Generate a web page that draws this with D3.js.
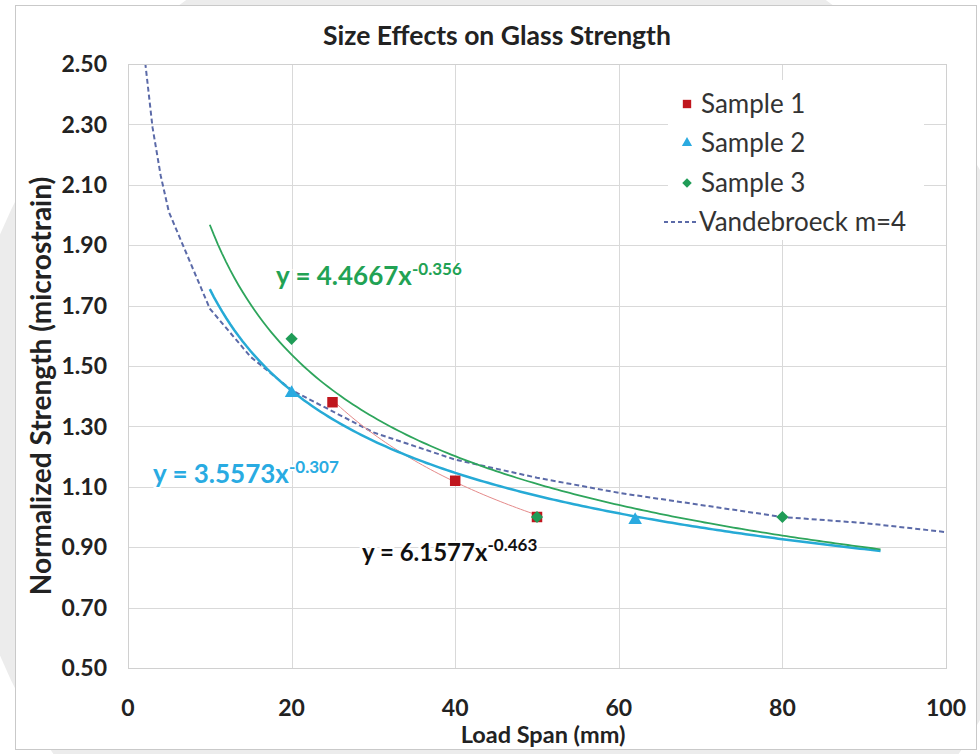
<head>
    <script src="https://d3js.org/d3.v7.min.js"></script>
</head>
<body style="margin:0">
<script>
    // values
    let sample1X = [25, 40, 50];
    let sample1Y = [1.38, 1.12, 1.00];
    let sample2X = [20, 62];
    let sample2Y = [1.41, 0.99];
    let sample3X = [20, 50, 80];
    let sample3Y = [1.59, 1.00, 1.00];
    let vandeX = [2, 3, 4, 5, 10, 15, 20, 30, 40, 50, 60, 70, 80, 90, 100];
    let vandeY = [2.53, 2.29, 2.13, 2.01, 1.69, 1.53, 1.42, 1.28, 1.19, 1.13, 1.08, 1.04, 1.00, 0.98, 0.95];

    // power trendlines y = a * x^b, as printed on the chart
    let trendNames = ["Sample 1", "Sample 2", "Sample 3"];
    let trendA = [6.1577, 3.5573, 4.4667];
    let trendB = [-0.463, -0.307, -0.356];
    let trendFrom = [25, 10, 10];
    let trendTo = [50, 92, 92];

    let xTicks = [0, 20, 40, 60, 80, 100];
    let yTicks = [0.50, 0.70, 0.90, 1.10, 1.30, 1.50, 1.70, 1.90, 2.10, 2.30, 2.50];

    let width = 980;
    let height = 754;
    let font = "Lato, 'Open Sans', sans-serif";

    let svg = d3.select("body").append("svg")
        .attr("width", width)
        .attr("height", height)
        .style("display", "block")
        .style("font-family", font);

    svg.append("rect").attr("width", width).attr("height", height).attr("fill", "white");
    // faint grey disc behind the frame
    svg.append("circle").attr("cx", 506).attr("cy", 445).attr("r", 548).attr("fill", "#ececec");
    svg.append("rect")
        .attr("x", 15.5).attr("y", 5.5).attr("width", 961).attr("height", 744)
        .attr("fill", "white").attr("stroke", "#c9c9c9");

    let pLeft = 128, pRight = 946, pTop = 64, pBottom = 668;

    let x = d3.scaleLinear().domain([0, 100]).range([pLeft, pRight]);
    let y = d3.scaleLinear().domain([0.5, 2.5]).range([pBottom, pTop]);

    // gridlines
    svg.append("g")
        .selectAll("line")
        .data(yTicks)
        .join("line")
        .attr("x1", pLeft).attr("x2", pRight)
        .attr("y1", d => Math.round(y(d)) + 0.5)
        .attr("y2", d => Math.round(y(d)) + 0.5)
        .attr("stroke", "#d9d9d9");

    svg.append("g")
        .selectAll("line")
        .data(xTicks)
        .join("line")
        .attr("y1", pTop).attr("y2", pBottom)
        .attr("x1", d => Math.round(x(d)) + 0.5)
        .attr("x2", d => Math.round(x(d)) + 0.5)
        .attr("stroke", "#d9d9d9");

    // tick labels
    svg.append("g")
        .selectAll("text")
        .data(yTicks)
        .join("text")
        .attr("x", 107)
        .attr("y", d => y(d))
        .attr("dy", "0.36em")
        .attr("text-anchor", "end")
        .attr("font-size", 23)
        .attr("font-weight", "bold")
        .attr("fill", "#222")
        .text(d => d3.format(".2f")(d));

    svg.append("g")
        .selectAll("text")
        .data(xTicks)
        .join("text")
        .attr("x", d => x(d))
        .attr("y", 716)
        .attr("text-anchor", "middle")
        .attr("font-size", 23)
        .attr("font-weight", "bold")
        .attr("fill", "#222")
        .text(d => d);

    // titles
    svg.append("text")
        .attr("x", 497).attr("y", 45)
        .attr("text-anchor", "middle")
        .attr("font-size", 26.5)
        .attr("font-weight", "bold")
        .attr("fill", "#222")
        .text("Size Effects on Glass Strength");

    svg.append("text")
        .attr("transform", "translate(51,386) rotate(-90)")
        .attr("text-anchor", "middle")
        .attr("font-size", 28)
        .attr("font-weight", "bold")
        .attr("fill", "#222")
        .text("Normalized Strength (microstrain)");

    svg.append("text")
        .attr("x", 543).attr("y", 743)
        .attr("text-anchor", "middle")
        .attr("font-size", 23.5)
        .attr("font-weight", "bold")
        .attr("fill", "#222")
        .text("Load Span (mm)");

    svg.append("clipPath").attr("id", "plotclip")
        .append("rect").attr("x", pLeft).attr("y", pTop)
        .attr("width", pRight - pLeft).attr("height", pBottom - pTop);

    let plot = svg.append("g").attr("clip-path", "url(#plotclip)");

    let line = d3.line()
        .x(d => x(d[0]))
        .y(d => y(d[1]));

    // Vandebroeck m=4
    plot.append("path")
        .datum(vandeX.map((v, i) => [v, vandeY[i]]))
        .attr("d", line)
        .attr("fill", "none")
        .attr("stroke", "#5b6aa8")
        .attr("stroke-width", 2)
        .attr("stroke-dasharray", "5,3");

    // trendlines
    let trendColors = ["#e58a8a", "#26aad6", "#2ea55c"];
    let trendWidths = [1, 2.5, 1.8];
    trendNames.forEach((name, k) => {
        let pts = d3.range(trendFrom[k], trendTo[k] + 0.01, 0.5)
            .map(v => [v, trendA[k] * Math.pow(v, trendB[k])]);
        plot.append("path")
            .datum(pts)
            .attr("d", line)
            .attr("fill", "none")
            .attr("stroke", trendColors[k])
            .attr("stroke-width", trendWidths[k]);
    });

    // markers
    let red = "#c0161d", cyan = "#2aaae0", green = "#1f9c57";
    plot.selectAll(".s1")
        .data(sample1X.map((v, i) => [v, sample1Y[i]]))
        .join("path")
        .attr("class", "s1")
        .attr("transform", d => `translate(${x(d[0])},${y(d[1])})`)
        .attr("d", d3.symbol(d3.symbolSquare, 110))
        .attr("fill", red);

    plot.selectAll(".s2")
        .data(sample2X.map((v, i) => [v, sample2Y[i]]))
        .join("path")
        .attr("class", "s2")
        .attr("transform", d => `translate(${x(d[0])},${y(d[1])})`)
        .attr("d", d3.symbol(d3.symbolTriangle, 80))
        .attr("fill", cyan);

    plot.selectAll(".s3")
        .data(sample3X.map((v, i) => [v, sample3Y[i]]))
        .join("path")
        .attr("class", "s3")
        .attr("transform", d => `translate(${x(d[0])},${y(d[1])}) rotate(45)`)
        .attr("d", d3.symbol(d3.symbolSquare, 75))
        .attr("fill", green);

    // plot border
    svg.append("rect")
        .attr("x", pLeft + 0.5).attr("y", pTop + 0.5)
        .attr("width", pRight - pLeft).attr("height", pBottom - pTop)
        .attr("fill", "none").attr("stroke", "#d0d0d0");

    // equation labels
    let eqs = [
        {a: "y = 6.1577x", b: "-0.463", x: 362, y: 561, size: 24, sup: 17, color: "#111"},
        {a: "y = 3.5573x", b: "-0.307", x: 153, y: 483, size: 26, sup: 17, color: "#29abe2"},
        {a: "y = 4.4667x", b: "-0.356", x: 276, y: 285, size: 26, sup: 17, color: "#22a254"}
    ];
    eqs.forEach(e => {
        let t = svg.append("text")
            .attr("x", e.x).attr("y", e.y)
            .attr("font-size", e.size)
            .attr("font-weight", "bold")
            .attr("fill", e.color)
            .attr("stroke", "white")
            .attr("stroke-width", 4)
            .attr("paint-order", "stroke");
        t.append("tspan").text(e.a);
        t.append("tspan").attr("font-size", e.sup).attr("dy", -10).text(e.b);
    });

    // legend
    let legend = svg.append("g");
    legend.append("rect")
        .attr("x", 668).attr("y", 80).attr("width", 256).attr("height", 160)
        .attr("fill", "white");
    let legNames = ["Sample 1", "Sample 2", "Sample 3", "Vandebroeck m=4"];
    let legY = [104, 143, 183, 222];
    legend.append("path")
        .attr("transform", `translate(687,${legY[0]})`)
        .attr("d", d3.symbol(d3.symbolSquare, 70)).attr("fill", red);
    legend.append("path")
        .attr("transform", `translate(687,${legY[1]})`)
        .attr("d", d3.symbol(d3.symbolTriangle, 45)).attr("fill", cyan);
    legend.append("path")
        .attr("transform", `translate(687,${legY[2]}) rotate(45)`)
        .attr("d", d3.symbol(d3.symbolSquare, 45)).attr("fill", green);
    legend.append("line")
        .attr("x1", 664).attr("x2", 698)
        .attr("y1", legY[3]).attr("y2", legY[3])
        .attr("stroke", "#5b6aa8").attr("stroke-width", 2)
        .attr("stroke-dasharray", "4,3");
    legend.selectAll("text")
        .data(legNames)
        .join("text")
        .attr("x", (d, i) => i == 3 ? 699 : 701)
        .attr("y", (d, i) => legY[i])
        .attr("dy", "0.35em")
        .attr("font-size", 26)
        .attr("fill", "#333")
        .text(d => d);
</script>
</body>
</html>
